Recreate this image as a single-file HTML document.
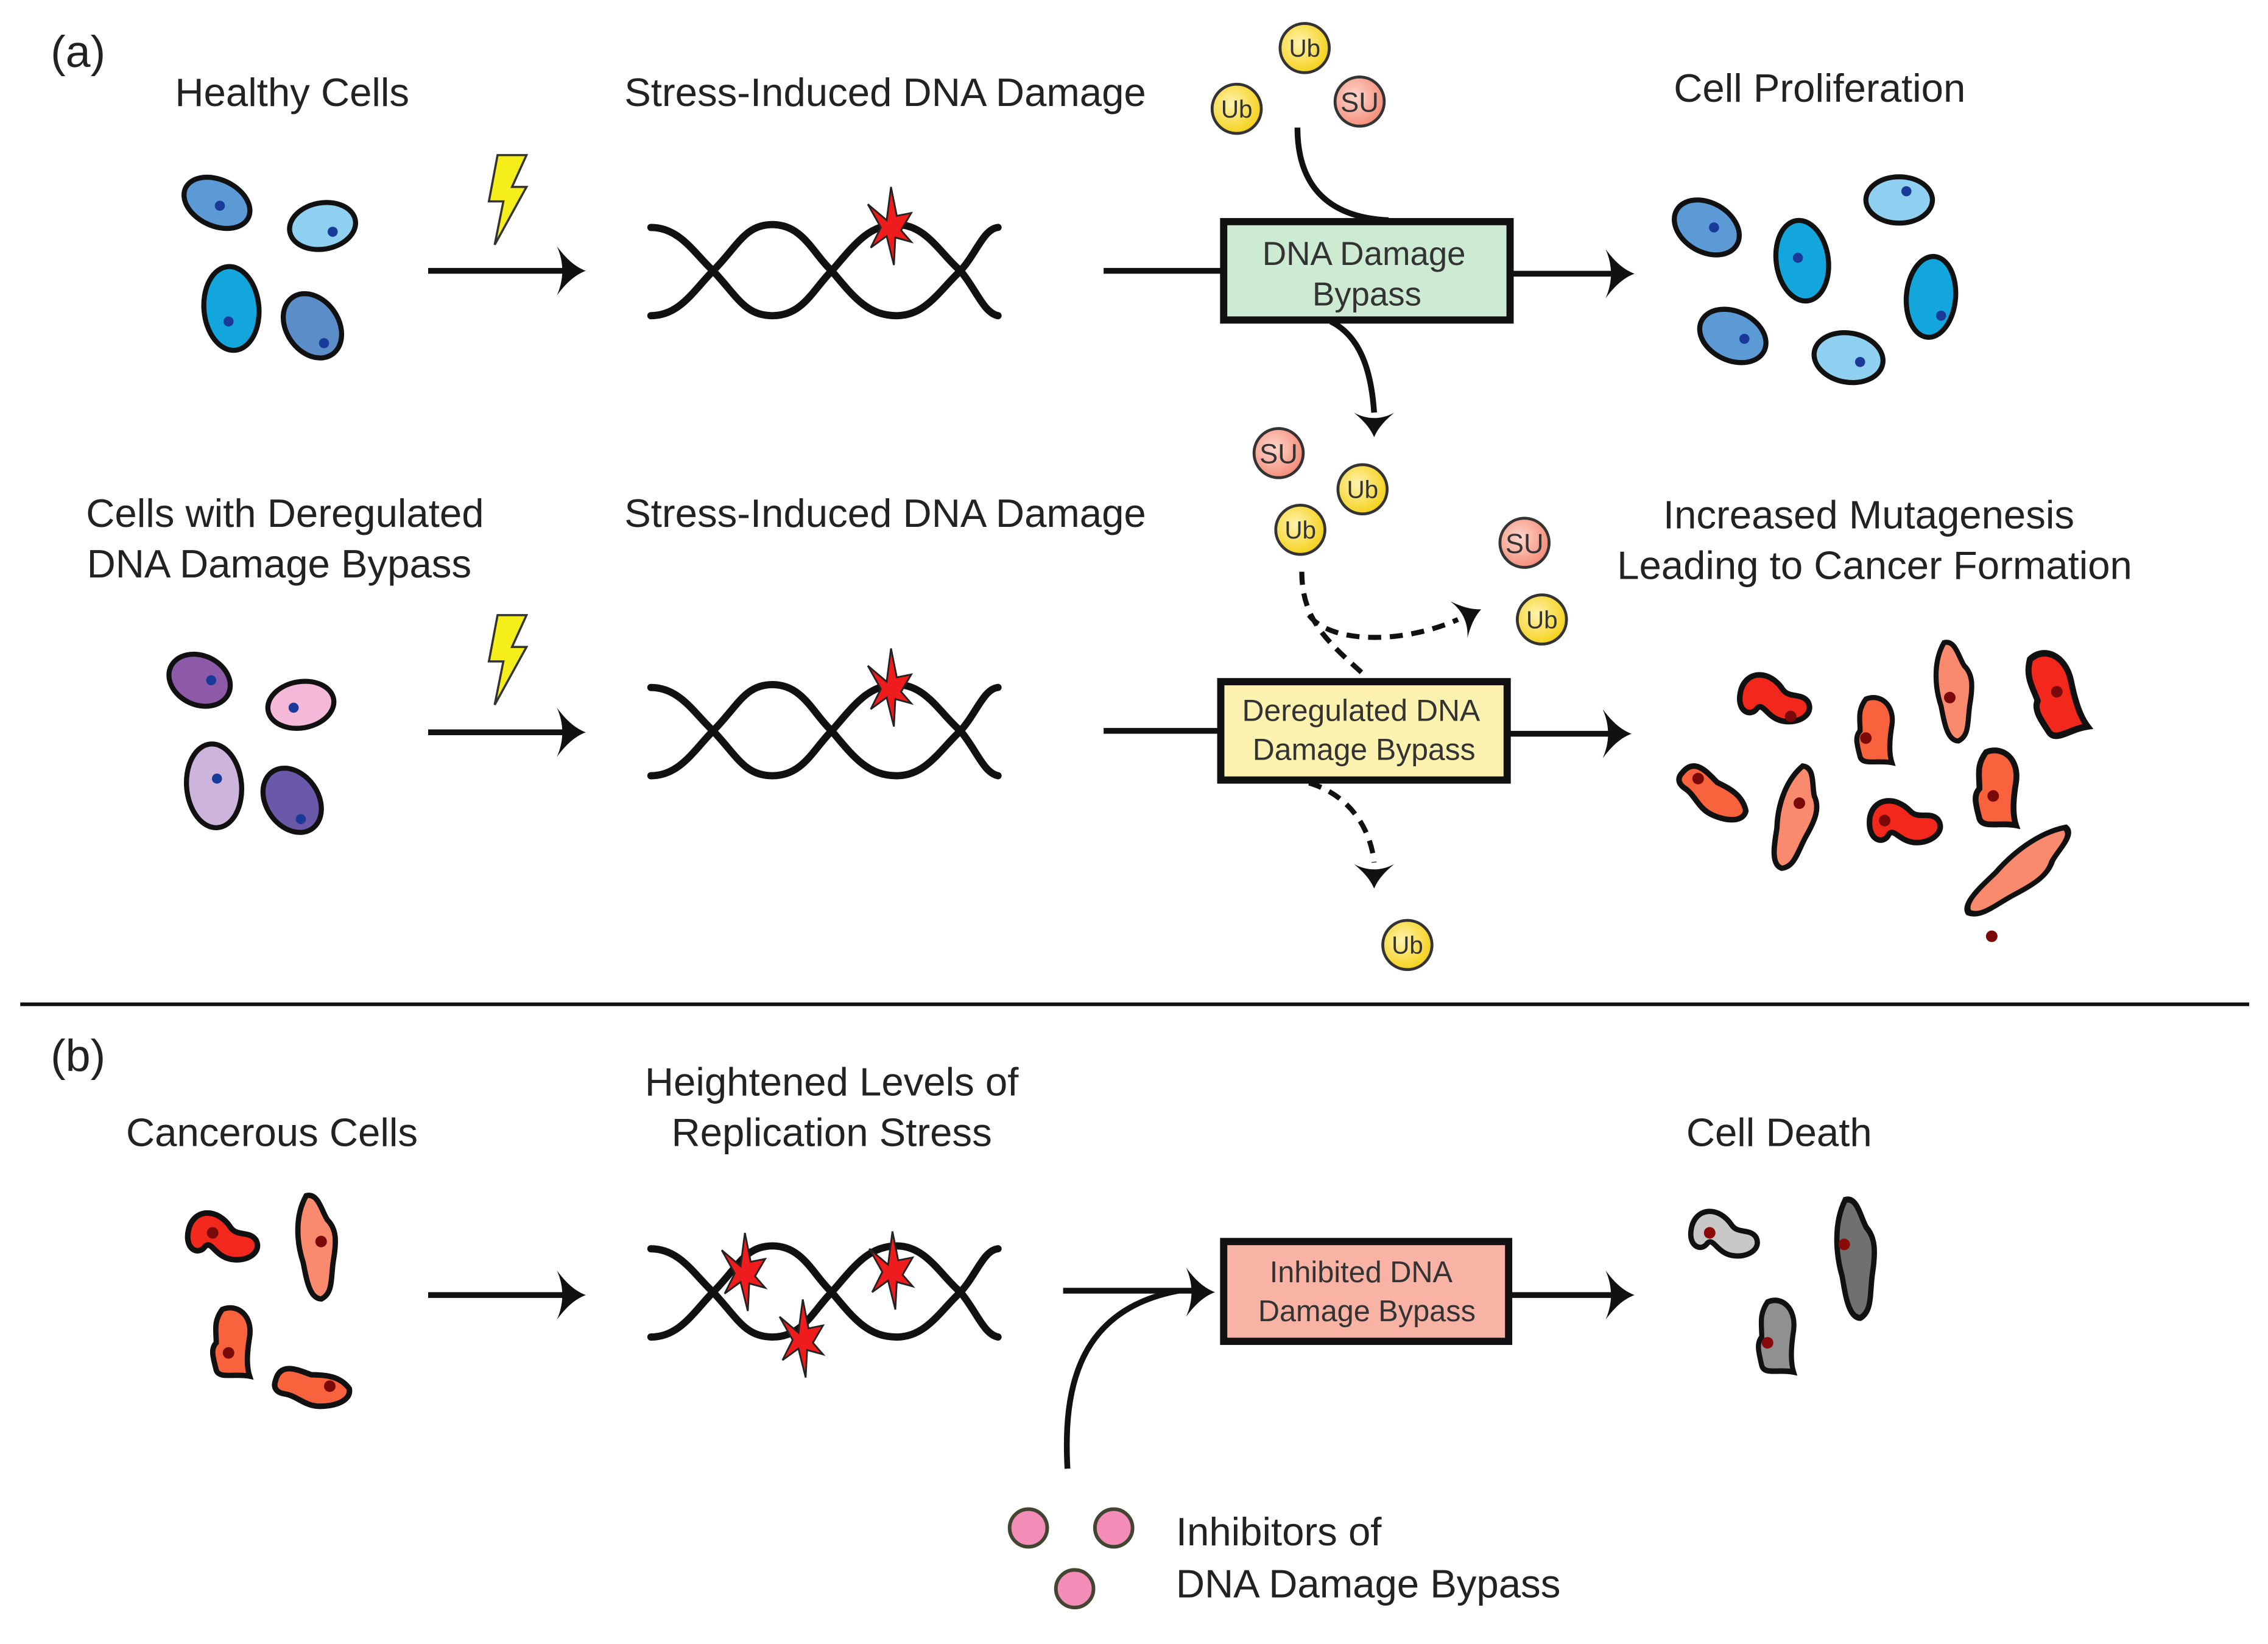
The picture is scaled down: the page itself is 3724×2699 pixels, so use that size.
<!DOCTYPE html>
<html><head><meta charset="utf-8"><style>
html,body{margin:0;padding:0;background:#fff}
svg{display:block}
text{font-family:"Liberation Sans",sans-serif}
</style></head><body>
<svg width="3724" height="2699" viewBox="0 0 1568 1136" xmlns="http://www.w3.org/2000/svg">
<defs>
<radialGradient id="gy" cx="0.4" cy="0.4" r="0.6"><stop offset="0" stop-color="#fff3b0"/><stop offset="1" stop-color="#f5d21e"/></radialGradient>
<radialGradient id="gs" cx="0.4" cy="0.4" r="0.6"><stop offset="0" stop-color="#ffd6cc"/><stop offset="1" stop-color="#f4907c"/></radialGradient>
<path id="ah" d="M0,0 C-8,-3 -14,-9 -20,-17 C-15,-6 -15,6 -20,17 C-14,9 -8,3 0,0 Z" fill="#111"/>
<path id="ahs" d="M0,0 C-7,-3 -12,-8 -17,-14 C-12,-5 -12,5 -17,14 C-12,8 -7,3 0,0 Z" fill="#111"/>
<g id="helix" fill="none" stroke="#111" stroke-width="5" stroke-linecap="round">
<path d="M450,157 C470,157 480,175 493,187 C510,205 515,218 534,218 C555,218 562,200 575,187 C590,170 600,155 620,155 C640,155 650,175 664,187 C675,200 680,216 690,218"/>
<path d="M450,218 C470,218 480,200 493,187 C510,170 515,155 534,155 C555,155 562,175 575,187 C590,205 600,218 620,218 C640,218 650,200 664,187 C675,175 680,158 690,157"/>
</g>
<path id="star" d="M0,-28 L4,-8 L14,-10 L7,2 L14,10 L3,7 L2,26 L-3,6 L-14,14 L-7,0 L-16,-16 L-3,-5 Z" fill="#ee1c1c" stroke="#222" stroke-width="1.2"/>
<path id="bolt" d="M-6,-30 L14,-30 L4,-8 L14,-8 L-8,32 L-2,2 L-12,2 Z" fill="#f6ee1a" stroke="#333" stroke-width="1.5"/>
<path id="cA" d="M-22,-8 C-18,-20 -4,-20 4,-8 C8,-2 16,-6 20,0 C24,8 14,14 4,12 C-6,10 -8,0 -12,4 C-16,10 -26,6 -22,-8 Z"/>
<path id="cB" d="M-6,-22 C4,-26 14,-18 12,-4 C10,8 10,16 12,22 C2,20 -8,24 -10,18 C-12,10 -14,4 -10,0 C-10,-8 -12,-14 -6,-22 Z"/>
<path id="cC" d="M-6,-34 C2,-36 4,-24 8,-18 C14,-12 14,-4 12,8 C10,20 12,30 4,34 C-4,34 -6,20 -8,10 C-12,-2 -14,-20 -6,-34 Z"/>
<path id="cD" d="M-20,-10 C-12,-20 -4,-10 2,-4 C10,0 18,4 20,14 C18,22 6,20 -2,16 C-10,12 -12,4 -18,0 C-24,-4 -22,-8 -20,-10 Z"/>
</defs>

<g font-size="27.5" fill="#222">
<text x="35" y="46" font-size="31">(a)</text>
<text x="202" y="73" text-anchor="middle">Healthy Cells</text>
<text x="612" y="73" text-anchor="middle">Stress-Induced DNA Damage</text>
<text x="1258" y="70" text-anchor="middle">Cell Proliferation</text>
<text x="197" y="364" text-anchor="middle">Cells with Deregulated</text>
<text x="193" y="399" text-anchor="middle">DNA Damage Bypass</text>
<text x="612" y="364" text-anchor="middle">Stress-Induced DNA Damage</text>
<text x="1292" y="365" text-anchor="middle">Increased Mutagenesis</text>
<text x="1296" y="400" text-anchor="middle">Leading to Cancer Formation</text>
<text x="35" y="740" font-size="31">(b)</text>
<text x="188" y="792" text-anchor="middle">Cancerous Cells</text>
<text x="575" y="757" text-anchor="middle">Heightened Levels of</text>
<text x="575" y="792" text-anchor="middle">Replication Stress</text>
<text x="1230" y="792" text-anchor="middle">Cell Death</text>
<text x="813" y="1068">Inhibitors of</text>
<text x="813" y="1104">DNA Damage Bypass</text>
</g>

<line x1="14" y1="694" x2="1555" y2="694" stroke="#111" stroke-width="2.5"/>

<g stroke="#111" stroke-width="3.5">
<ellipse cx="150" cy="140" rx="24" ry="16" transform="rotate(25 150 140)" fill="#5b9ad4"/>
<ellipse cx="223" cy="156" rx="23" ry="16" transform="rotate(-10 223 156)" fill="#8fd0f0"/>
<ellipse cx="160" cy="213" rx="19" ry="29" transform="rotate(-5 160 213)" fill="#13a6dc"/>
<ellipse cx="216" cy="225" rx="18" ry="24" transform="rotate(-35 216 225)" fill="#5b8dc8"/>
</g>
<g fill="#1a3a9a"><circle cx="152" cy="142" r="3.5"/><circle cx="230" cy="160" r="3.5"/><circle cx="158" cy="222" r="3.5"/><circle cx="224" cy="237" r="3.5"/></g>
<use href="#bolt" x="350" y="137"/>
<line x1="296" y1="187" x2="390" y2="187" stroke="#111" stroke-width="4"/>
<use href="#ah" x="405" y="187"/>
<use href="#helix"/>
<use href="#star" x="616" y="157"/>
<line x1="763" y1="187" x2="846" y2="187" stroke="#111" stroke-width="4"/>
<rect x="846" y="153" width="198" height="68" fill="#cdebd2" stroke="#111" stroke-width="5"/>
<g font-size="23" fill="#333" text-anchor="middle"><text x="943" y="183">DNA Damage</text><text x="945" y="211">Bypass</text></g>
<line x1="1044" y1="189" x2="1115" y2="189" stroke="#111" stroke-width="4"/>
<use href="#ah" x="1130" y="189"/>
<path d="M897,88 C897,125 915,150 960,152" fill="none" stroke="#111" stroke-width="4"/>
<path d="M920,222 C940,232 948,255 950,285" fill="none" stroke="#111" stroke-width="4"/>
<use href="#ahs" x="950" y="302" transform="rotate(90 950 302)"/>
<g stroke="#333" stroke-width="2" font-size="17" text-anchor="middle">
<circle cx="902" cy="33" r="17" fill="url(#gy)"/><text x="902" y="39" fill="#333" stroke="none">Ub</text>
<circle cx="855" cy="75" r="17" fill="url(#gy)"/><text x="855" y="81" fill="#333" stroke="none">Ub</text>
<circle cx="940" cy="70" r="17" fill="url(#gs)"/><text x="940" y="77" fill="#333" stroke="none" font-size="19">SU</text>
<circle cx="884" cy="313" r="17" fill="url(#gs)"/><text x="884" y="320" fill="#333" stroke="none" font-size="19">SU</text>
<circle cx="942" cy="338" r="17" fill="url(#gy)"/><text x="942" y="344" fill="#333" stroke="none">Ub</text>
<circle cx="899" cy="366" r="17" fill="url(#gy)"/><text x="899" y="372" fill="#333" stroke="none">Ub</text>
<circle cx="1054" cy="375" r="17" fill="url(#gs)"/><text x="1054" y="382" fill="#333" stroke="none" font-size="19">SU</text>
<circle cx="1066" cy="428" r="17" fill="url(#gy)"/><text x="1066" y="434" fill="#333" stroke="none">Ub</text>
<circle cx="973" cy="653" r="17" fill="url(#gy)"/><text x="973" y="659" fill="#333" stroke="none">Ub</text>
</g>
<g stroke="#111" stroke-width="3.5">
<ellipse cx="1180" cy="157" rx="24" ry="17" transform="rotate(30 1180 157)" fill="#5b9ad4"/>
<ellipse cx="1246" cy="180" rx="18" ry="28" transform="rotate(-8 1246 180)" fill="#13a6dc"/>
<ellipse cx="1313" cy="138" rx="23" ry="16" fill="#8fd0f0"/>
<ellipse cx="1335" cy="205" rx="17" ry="28" transform="rotate(5 1335 205)" fill="#13a6dc"/>
<ellipse cx="1198" cy="232" rx="24" ry="17" transform="rotate(25 1198 232)" fill="#5b9ad4"/>
<ellipse cx="1278" cy="247" rx="24" ry="17" transform="rotate(10 1278 247)" fill="#8fd0f0"/>
</g>
<g fill="#1a3a9a"><circle cx="1185" cy="157" r="3.5"/><circle cx="1243" cy="178" r="3.5"/><circle cx="1318" cy="132" r="3.5"/><circle cx="1342" cy="218" r="3.5"/><circle cx="1206" cy="234" r="3.5"/><circle cx="1286" cy="250" r="3.5"/></g>

<g stroke="#111" stroke-width="3.5">
<ellipse cx="138" cy="470" rx="22" ry="17" transform="rotate(25 138 470)" fill="#8c5aa8"/>
<ellipse cx="208" cy="487" rx="23" ry="16" transform="rotate(-10 208 487)" fill="#f4b8d8"/>
<ellipse cx="148" cy="543" rx="19" ry="29" transform="rotate(-5 148 543)" fill="#cdb4dc"/>
<ellipse cx="202" cy="553" rx="18" ry="24" transform="rotate(-35 202 553)" fill="#6a58a8"/>
</g>
<g fill="#1a3a9a"><circle cx="146" cy="470" r="3.5"/><circle cx="203" cy="489" r="3.5"/><circle cx="150" cy="538" r="3.5"/><circle cx="208" cy="566" r="3.5"/></g>
<use href="#bolt" x="350" y="455"/>
<line x1="296" y1="506" x2="390" y2="506" stroke="#111" stroke-width="4"/>
<use href="#ah" x="405" y="506"/>
<use href="#helix" y="318"/>
<use href="#star" x="616" y="476"/>
<line x1="763" y1="505" x2="844" y2="505" stroke="#111" stroke-width="4"/>
<rect x="844" y="471" width="198" height="68" fill="#fdf2b0" stroke="#111" stroke-width="5"/>
<g font-size="21" fill="#333" text-anchor="middle"><text x="941" y="498">Deregulated DNA</text><text x="943" y="525">Damage Bypass</text></g>
<line x1="1042" y1="507" x2="1113" y2="507" stroke="#111" stroke-width="4"/>
<use href="#ah" x="1128" y="507"/>
<g fill="none" stroke="#111" stroke-width="3.5" stroke-dasharray="9,6">
<path d="M900,395 C900,430 920,445 945,468"/>
<path d="M905,425 C920,445 970,445 1008,428"/>
<path d="M905,541 C935,550 948,575 950,596"/>
</g>
<use href="#ahs" x="1024" y="421" transform="rotate(-25 1024 421)"/>
<use href="#ahs" x="950" y="614" transform="rotate(90 950 614)"/>
<g stroke="#111" stroke-width="3.5">
<use href="#cA" transform="translate(1228,485) scale(1.1)" fill="#f2281c"/>
<use href="#cB" transform="translate(1296,505)" fill="#f8623c"/>
<use href="#cC" transform="translate(1350,478)" fill="#f98a6e"/>
<use href="#cB" transform="translate(1420,480) rotate(-20) scale(1.2,1.3)" fill="#f2281c"/>
<use href="#cD" transform="translate(1185,545) scale(1.1)" fill="#f8623c"/>
<use href="#cC" transform="translate(1240,565) rotate(20) scale(1.05)" fill="#f98a6e"/>
<use href="#cA" transform="translate(1318,570) rotate(-10) scale(1.1)" fill="#f2281c"/>
<use href="#cB" transform="translate(1380,545) scale(1.15)" fill="#f8623c"/>
<use href="#cC" transform="translate(1395,602) rotate(55) scale(1.0,1.3)" fill="#f98a6e"/>
</g>
<g fill="#7a0a0a"><circle cx="1238" cy="495" r="4"/><circle cx="1290" cy="510" r="4"/><circle cx="1348" cy="482" r="4"/><circle cx="1422" cy="478" r="4"/><circle cx="1174" cy="538" r="4"/><circle cx="1244" cy="555" r="4"/><circle cx="1303" cy="567" r="4"/><circle cx="1378" cy="550" r="4"/><circle cx="1377" cy="647" r="4"/></g>

<g stroke="#111" stroke-width="3.5">
<use href="#cA" transform="translate(155,857) scale(1.1)" fill="#f2281c"/>
<use href="#cC" transform="translate(218,862) scale(1.05)" fill="#f98a6e"/>
<use href="#cB" transform="translate(160,928) scale(1.05)" fill="#f8623c"/>
<use href="#cD" transform="translate(215,955) rotate(-25) scale(1.1)" fill="#f8623c"/>
</g>
<g fill="#7a0a0a"><circle cx="147" cy="852" r="4"/><circle cx="222" cy="858" r="4"/><circle cx="158" cy="935" r="4"/><circle cx="228" cy="958" r="4"/></g>
<line x1="296" y1="895" x2="390" y2="895" stroke="#111" stroke-width="4"/>
<use href="#ah" x="405" y="895"/>
<use href="#helix" y="706"/>
<use href="#star" x="515" y="880"/>
<use href="#star" x="555" y="926"/>
<use href="#star" x="617" y="879"/>
<line x1="735" y1="892" x2="826" y2="892" stroke="#111" stroke-width="4"/>
<path d="M738,1015 C735,960 745,905 815,892" fill="none" stroke="#111" stroke-width="4"/>
<use href="#ah" x="840" y="893"/>
<rect x="846" y="858" width="197" height="69" fill="#f8b3a5" stroke="#111" stroke-width="5"/>
<g font-size="20.5" fill="#333" text-anchor="middle"><text x="941" y="886">Inhibited DNA</text><text x="945" y="913">Damage Bypass</text></g>
<line x1="1043" y1="895" x2="1115" y2="895" stroke="#111" stroke-width="4"/>
<use href="#ah" x="1130" y="895"/>
<g stroke="#111" stroke-width="3.5">
<use href="#cA" transform="translate(1193,855) scale(1.05)" fill="#c8c8c8"/>
<use href="#cC" transform="translate(1282,870) scale(1.05,1.2)" fill="#707070"/>
<use href="#cB" transform="translate(1228,924) scale(1.0,1.1)" fill="#909090"/>
</g>
<g fill="#8a0a0a"><circle cx="1182" cy="852" r="4"/><circle cx="1275" cy="860" r="4"/><circle cx="1222" cy="928" r="4"/></g>
<g fill="#f48cb8" stroke="#443" stroke-width="2.5">
<circle cx="711" cy="1056" r="13"/><circle cx="770" cy="1056" r="13"/><circle cx="743" cy="1098" r="13"/>
</g>
</svg>
</body></html>
